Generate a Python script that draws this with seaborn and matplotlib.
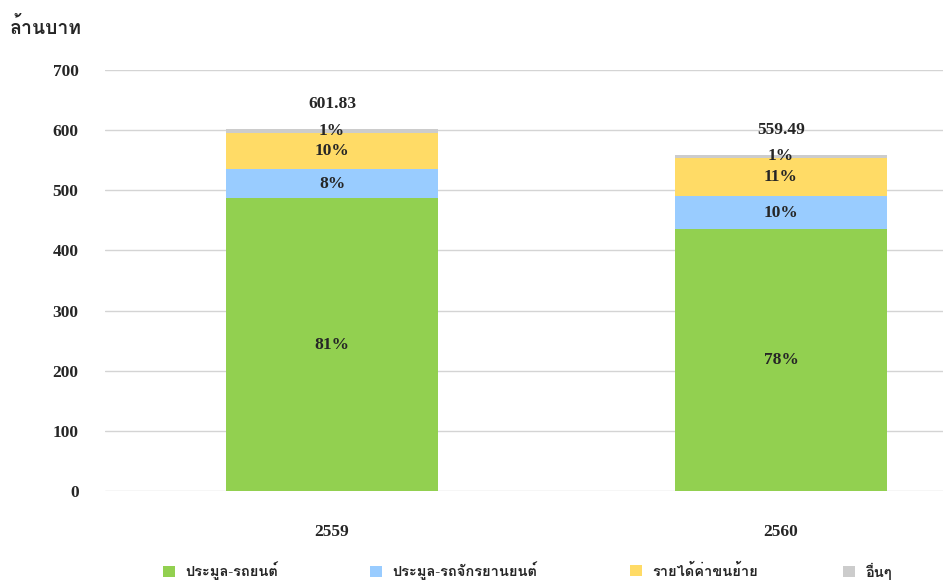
import matplotlib
matplotlib.use("Agg")
import matplotlib.pyplot as plt
from matplotlib import font_manager
from matplotlib.ft2font import FT2Font
from matplotlib.patches import Patch
import seaborn as sns
import pandas as pd
import numpy as np

years = ["2559", "2560"]
series = ["ประมูล-รถยนต์", "ประมูล-รถจักรยานยนต์", "รายได้ค่าขนย้าย", "อื่นๆ"]
values = {
    "ประมูล-รถยนต์": [487.0, 435.0],
    "ประมูล-รถจักรยานยนต์": [48.0, 56.0],
    "รายได้ค่าขนย้าย": [60.0, 62.0],
    "อื่นๆ": [6.83, 6.49],
}
pct_labels = {
    "ประมูล-รถยนต์": ["81%", "78%"],
    "ประมูล-รถจักรยานยนต์": ["8%", "10%"],
    "รายได้ค่าขนย้าย": ["10%", "11%"],
    "อื่นๆ": ["1%", "1%"],
}
totals = [601.83, 559.49]
colors = ["#92D050", "#99CCFF", "#FFDB66", "#CCCCCC"]
y_ticks = [0, 100, 200, 300, 400, 500, 600, 700]

# fonts that carry Thai glyphs, used as fallback after the serif Latin font
thai_names = []
for f in font_manager.fontManager.ttflist:
    try:
        cm = FT2Font(f.fname).get_charmap()
    except Exception:
        continue
    if 0x0E01 in cm and 0x0E49 in cm and f.name not in thai_names:
        thai_names.append(f.name)
preferred = [n for n in ["Loma", "FreeSerif"] if n in thai_names]
thai_names = preferred + [n for n in thai_names if n not in preferred]

sns.set_theme(style="white")
plt.rcParams["font.family"] = ["Liberation Serif"] + thai_names + ["DejaVu Sans"]

df = pd.DataFrame([(y, s, values[s][i]) for s in series for i, y in enumerate(years)],
                  columns=["year", "series", "value"])

fig = plt.figure(figsize=(9.43, 5.81), dpi=100)
ax = fig.add_axes([105 / 943, (581 - 491) / 581, (943 - 105) / 943, (491 - 70) / 581])

bottom = np.zeros(len(years))
for s, c in zip(series, colors):
    sub = df[df.series == s]
    sns.barplot(data=sub, x="year", y="value", color=c, ax=ax, width=0.474,
                bottom=bottom, saturation=1, zorder=3, errorbar=None,
                linewidth=0, edgecolor="none")
    for i in range(len(years)):
        v = values[s][i]
        ax.text(i, bottom[i] + v / 2, pct_labels[s][i], ha="center", va="center",
                fontsize=12.5, fontweight="bold", zorder=5)
    bottom = bottom + np.array(values[s])

for i, t in enumerate(totals):
    ax.annotate(f"{t:.2f}", (i, bottom[i]), xytext=(0, 12), textcoords="offset points",
                ha="center", va="bottom", fontsize=12.5, fontweight="bold")

ax.set_xlim(-0.5056, 1.3608)
ax.set_ylim(0, 700)
ax.set_yticks(y_ticks)
ax.set_yticklabels([str(t) for t in y_ticks], fontsize=12.5, fontweight="bold")
ax.tick_params(axis="y", pad=19, length=0)
ax.tick_params(axis="x", pad=24, length=0, labelsize=12.5)
for lab in ax.get_xticklabels():
    lab.set_fontweight("bold")
ax.set_xlabel("")
ax.set_ylabel("")
ax.yaxis.grid(True, color="#D4D4D4", linewidth=1, zorder=0)
ax.xaxis.grid(False)
for sp in ax.spines.values():
    sp.set_visible(False)

fig.text(10 / 943, 1 - 28 / 581, "ล้านบาท", ha="left", va="center", fontsize=14, fontweight="bold")

# legend entries, one per series, at the reference positions
leg_x = [163, 370, 630, 843]
for s, c, lx in zip(series, colors, leg_x):
    fig.legend([Patch(facecolor=c, edgecolor="none")], [s], loc="center left",
               bbox_to_anchor=(lx / 943, 1 - 571 / 581), frameon=False,
               handlelength=0.85, handleheight=0.85, handletextpad=0.7,
               borderaxespad=0, borderpad=0,
               prop={"weight": "bold", "size": 10.5})
fig.savefig("out.png", dpi=100)
